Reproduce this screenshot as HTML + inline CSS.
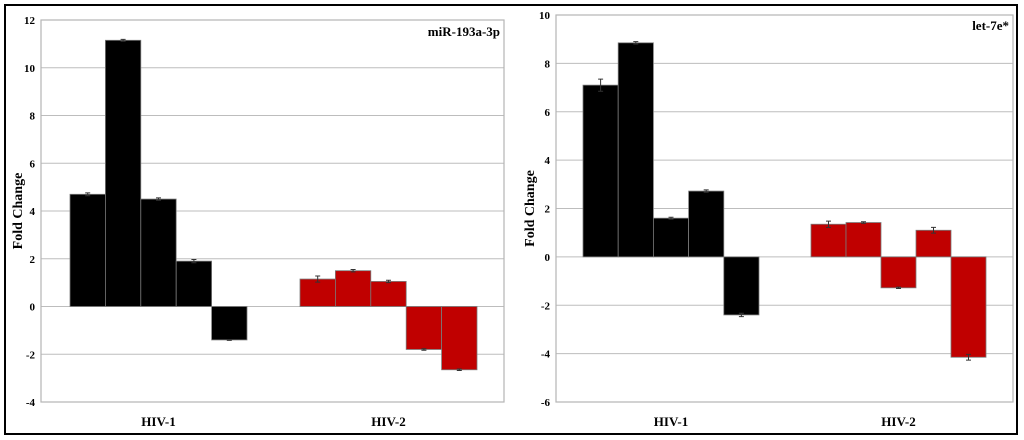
<!DOCTYPE html>
<html><head><meta charset="utf-8">
<style>
html,body{margin:0;padding:0;background:#fff;}
svg{display:block;font-family:"Liberation Serif",serif;}
</style></head>
<body>
<svg id="chart" width="1024" height="440" viewBox="0 0 1024 440" xmlns="http://www.w3.org/2000/svg">
<rect x="5" y="5" width="1012" height="429" fill="none" stroke="#000" stroke-width="2"/>
</svg>
<script>
const categories = ["HIV-1", "HIV-2"];
const leftTitle = "miR-193a-3p";
const leftTicks = [12, 10, 8, 6, 4, 2, 0, -2, -4];
const leftHiv1 = [4.7, 11.15, 4.5, 1.9, -1.4];
const leftHiv2 = [1.15, 1.5, 1.05, -1.8, -2.65];
const leftErr1 = [0.06, 0.04, 0.05, 0.07, 0.02];
const leftErr2 = [0.13, 0.05, 0.05, 0.03, 0.03];
const rightTitle = "let-7e*";
const rightTicks = [10, 8, 6, 4, 2, 0, -2, -4, -6];
const rightHiv1 = [7.1, 8.85, 1.6, 2.72, -2.4];
const rightHiv2 = [1.35, 1.42, -1.28, 1.1, -4.15];
const rightErr1 = [0.25, 0.05, 0.04, 0.05, 0.07];
const rightErr2 = [0.13, 0.03, 0.03, 0.12, 0.12];

const svg = document.getElementById('chart');
const NS = 'http://www.w3.org/2000/svg';
function mk(tag, attrs, parent){
  const e = document.createElementNS(NS, tag);
  for (const k in attrs) e.setAttribute(k, attrs[k]);
  (parent||svg).appendChild(e);
  return e;
}

function panel(cfg){
  const g = mk('g', {});
  
  
  const ymax = cfg.ticks[0], ymin = cfg.ticks[cfg.ticks.length-1];
  const y = v => cfg.top + (ymax - v) / (ymax - ymin) * (cfg.bottom - cfg.top);
  // gridlines
  cfg.ticks.forEach(t => {
    const l = mk('line', {x1: cfg.left, x2: cfg.right, y1: y(t), y2: y(t), stroke: '#bdbdbd', 'stroke-width': 1}, g);
    
    
    const tx = mk('text', {x: cfg.left - 6, y: y(t) + 4, 'text-anchor': 'end', 'font-size': 11, 'font-weight': 'bold'}, g);
    
    
    tx.textContent = t;
  });
  const frame = mk('rect', {x: cfg.left, y: cfg.top, width: cfg.right - cfg.left, height: cfg.bottom - cfg.top, fill: 'none', stroke: '#b5b5b5', 'stroke-width': 1.2}, g);
  
  
  const groups = [[cfg.v1, cfg.e1, '#000000', cfg.g1], [cfg.v2, cfg.e2, '#c00000', cfg.g2]];
  groups.forEach((gr, gi) => {
    const vals = gr[0], errs = gr[1], col = gr[2], x0 = gr[3][0], x1 = gr[3][1];
    const bw = (x1 - x0) / vals.length;
    vals.forEach((v, i) => {
      const bx = x0 + i * bw;
      const top = Math.min(y(v), y(0)), h = Math.abs(y(v) - y(0));
      const r = mk('rect', {x: bx, y: top, width: bw, height: h, fill: col, stroke: '#7a7a7a', 'stroke-width': 0.8}, g);
      
      
      const cx = bx + bw / 2, ye1 = y(v + errs[i]), ye2 = y(v - errs[i]);
      const eb = mk('path', {d: `M${cx},${ye1}V${ye2}M${cx-2.5},${ye1}H${cx+2.5}M${cx-2.5},${ye2}H${cx+2.5}`, stroke: '#333', 'stroke-width': 1, fill: 'none'}, g);
      
      
    });
    const lab = mk('text', {x: (x0 + x1) / 2, y: 426, 'text-anchor': 'middle', 'font-size': 13, 'font-weight': 'bold'}, g);
    
    
    lab.textContent = categories[gi];
  });
  const title = mk('text', {x: cfg.right - 4, y: cfg.titleY, 'text-anchor': 'end', 'font-size': 13, 'font-weight': 'bold'}, g);
  
  
  title.textContent = cfg.title;
  const yl = mk('text', {x: 0, y: 0, 'text-anchor': 'middle', 'font-size': 14, 'font-weight': 'bold', transform: `translate(${cfg.ylx},${(cfg.top+cfg.bottom)/2}) rotate(-90)`}, g);
  
  
  yl.textContent = 'Fold Change';
}

panel({name: 'left-panel', title: leftTitle, ticks: leftTicks, left: 41, right: 504, top: 20, bottom: 402,
  v1: leftHiv1, v2: leftHiv2, e1: leftErr1, e2: leftErr2, g1: [70, 247], g2: [300, 477], titleY: 36, ylx: 22});
panel({name: 'right-panel', title: rightTitle, ticks: rightTicks, left: 556, right: 1013, top: 15, bottom: 402,
  v1: rightHiv1, v2: rightHiv2, e1: rightErr1, e2: rightErr2, g1: [583, 759], g2: [811, 986], titleY: 30, ylx: 534});
</script>
</body></html>
